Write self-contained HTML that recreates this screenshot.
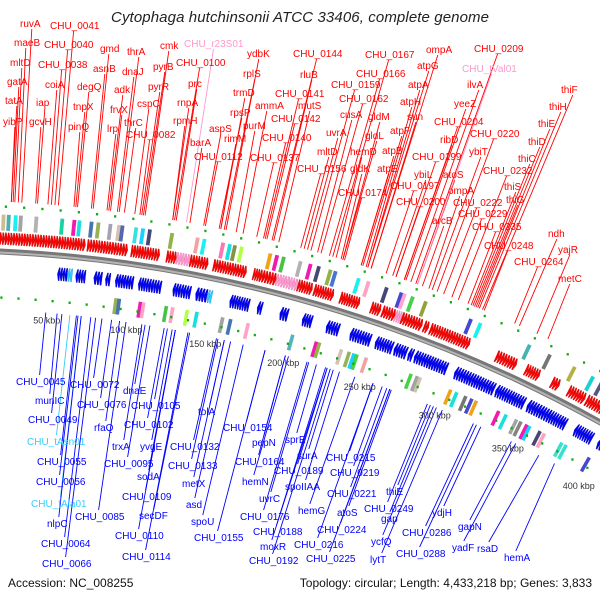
<!DOCTYPE html>
<html><head><meta charset="utf-8">
<style>
html,body{margin:0;padding:0;background:#fff;width:600px;height:600px;overflow:hidden;}
svg{display:block;font-family:"Liberation Sans",sans-serif;overflow:hidden;}
</style></head>
<body>
<svg id="map" width="600" height="600" viewBox="0 0 600 600" xmlns="http://www.w3.org/2000/svg">
<rect width="600" height="600" fill="#fff"/>
<text x="300" y="22" text-anchor="middle" font-size="15" font-style="italic" fill="#222" textLength="378">Cytophaga hutchinsonii ATCC 33406, complete genome</text>
<g id="lines"></g>
<g id="features"></g>
<g id="labels"></g>
<text x="8" y="587" font-size="12" fill="#111">Accession: NC_008255</text>
<text x="592" y="587" font-size="12" fill="#111" text-anchor="end">Topology: circular; Length: 4,433,218 bp; Genes: 3,833</text>
</svg>
<script>
// ---- data (kbp) ----
const fwdStart = [12,70,96,99,117,131,145,169,173,196,206,222,241,248,260,274,278,320,339,356,367,379];
const fwdEnd   = [69,94,99,113,123,142,165,173,183,205,218,234,247,256,273,277,303,333,348,361,378,392];
const rnaFwdStart = [123,183,256];
const rnaFwdEnd   = [131,196,260];
const revStart = [54,65,76,83,89,103,109,124,138,159,176,190,204,219,234,250,262,271,275,301,328,349,364,381,397];
const revEnd   = [60,71,81,86,100,109,117,135,145,171,179,195,210,227,247,261,270,274,296,327,347,364,375,393,402];
const rnaRevStart = [60,145];
const rnaRevEnd   = [63,148];
const fwdBoxKbp = [20,23,27,30,39,54,61,64,71,75,82,87,89,97,101,105,118,133,137,148,152,155,159,176,180,184,194,200,205,212,215,229,235,246,255,257,262,270,298,304,335,348,364,376,382];
const fwdBoxColor = ["#c8b48a","#3aa","#0ee","#999","#aaa","#0c9","#e0a","#0dd","#36a","#8a4","#99a","#cba","#45a","#2dd","#0cf","#336","#8a3","#e99","#0ee","#f6a","#0dd","#783","#af3","#e90","#e0a","#3b3","#aaa","#e0a","#336","#8a3","#36c","#0ee","#f9b","#336","#33c","#f9c","#3c3","#892","#33c","#0ee","#3aa","#666","#aa3","#0cc","#447"];
const revBoxKbp = [91,93,106,108,122,126,135,141,157,162,173,201,216,218,232,237,240,242,248,277,281,283,303,307,313,317,320,335,340,347,350,354,356,363,366,378,381,397];
const revBoxColor = ["#8a4","#36a","#e0a","#f9b","#3b3","#f9b","#af3","#0dd","#999","#36a","#f9b","#4ab","#e0a","#8a3","#cba","#8a4","#0cf","#3c3","#e99","#3c3","#999","#cba","#e90","#0dd","#666","#33c","#e90","#e0a","#0dd","#999","#777","#e0a","#0cf","#336","#f9b","#2dc","#2dc","#33c"];
const tickKbp = [50,100,150,200,250,300,350,400];
const tickLabels = ["50 kbp","100 kbp","150 kbp","200 kbp","250 kbp","300 kbp","350 kbp","400 kbp"];

const redGenes = ["ruvA","CHU_0041","maeB","CHU_0040","mltD","CHU_0038","gatA","coiA","tatA","iap","yibP","gcvH","pinQ","degQ","tnpX","gmd","asnB","thrA","dnaJ","adk","frvX","lrp","thrC","CHU_0082","cspC","pyrR","pyrB","cmk","CHU_r23S01","CHU_0100","prc","rnpA","rpmH","barA","CHU_0112","aspS","ydbK","rplS","trmD","rpsP","ammA","purM","rimM","CHU_0137","CHU_0140","CHU_0142","CHU_0141","CHU_0144","rluB","mutS","CHU_0156","mltD","uvrA","cusA","CHU_0162","CHU_0159","CHU_0166","CHU_0167","gldM","gldL","hemD","gldK","CHU_0174","atpF","atpB","atpE","sun","atpH","atpA","atpG","ompA","CHU_0197","CHU_0200","CHU_0199","ybiL","atoS","ribD","CHU_0204","yeeZ","ilvA","CHU_tVal01","CHU_0209","ompA","CHU_0222","CHU_0229","CHU_0220","ybiT","CHU_0232","thiS","thiG","thiC","thiD","thiE","thiH","thiF","arcB","CHU_0235","CHU_0248","ndh","CHU_0264","yajR","metC"];
const redKbp = [30,51,28,49,26,47,25,45,24,39,24,38,60,62,61,71,70,86,85,80,81,79,89,98,95,99,100,101,125,118,119,117,117,127,136,135,148,147,145,144,158,154,145,166,170,172,171,175,176,179,192,194,196,202,204,198,209,211,217,217,213,216,218,229,228,228,234,231,232,232,234,243,249,249,247,262,254,254,255,258,262,261,269,278,283,274,271,287,295,298,296,297,299,300,302,265,293,303,325,322,336,343];
const redPos = [[20,27],[50,29],[14,46],[44,48],[10,66],[38,68],[7,85],[45,88],[5,104],[36,106],[3,125],[29,125],[68,130],[77,90],[73,110],[100,52],[93,72],[127,55],[122,75],[114,93],[110,113],[107,132],[124,126],[126,138],[137,107],[148,90],[153,70],[160,49],[184,47],[176,66],[188,87],[177,106],[173,124],[190,146],[194,160],[209,132],[247,57],[243,77],[233,96],[230,116],[255,109],[243,129],[224,142],[250,161],[262,141],[271,122],[275,97],[293,57],[300,78],[298,109],[297,172],[317,155],[326,136],[340,118],[339,102],[331,88],[356,77],[365,58],[368,120],[365,139],[350,155],[350,172],[338,196],[390,134],[382,154],[377,172],[407,120],[400,105],[408,88],[417,69],[426,53],[390,189],[396,205],[412,160],[414,178],[443,178],[440,143],[434,125],[454,107],[467,88],[462,72],[474,52],[448,194],[453,206],[458,217],[470,137],[469,155],[483,174],[504,190],[506,203],[518,162],[528,145],[538,127],[549,110],[561,93],[432,224],[472,230],[484,249],[548,237],[514,265],[558,253],[558,282]];

const blueGenes = ["CHU_0045","munIC","CHU_0049","CHU_tAsn01","CHU_0055","CHU_0056","CHU_tAla01","nlpC","CHU_0064","CHU_0066","CHU_0072","CHU_0076","rfaQ","dnaE","CHU_0105","CHU_0102","trxA","yvgE","CHU_0095","sodA","CHU_0109","CHU_0085","secDF","CHU_0110","CHU_0114","tolA","CHU_0154","CHU_0132","CHU_0133","metX","asd","spoU","CHU_0155","pepN","CHU_0164","hemN","uvrC","CHU_0176","CHU_0188","moxR","CHU_0192","sprE","surA","CHU_0189","spoIIAA","hemG","CHU_0215","CHU_0219","CHU_0221","atoS","CHU_0224","CHU_0216","CHU_0225","CHU_0249","thiE","gap","ycfQ","lytT","ydjH","CHU_0286","CHU_0288","gapN","yadF","rsaD","hemA"];
const blueKbp = [49,56,59,64,68,69,71,71,77,80,84,90,95,111,125,123,109,128,114,130,130,99,139,130,138,161,187,156,157,161,165,173,187,200,200,202,215,214,226,227,229,220,231,227,235,245,257,263,266,269,268,257,268,293,295,297,299,303,329,324,326,350,353,369,380];
const bluePos = [[16,385],[35,404],[28,423],[27,445],[37,465],[36,485],[31,507],[47,527],[41,547],[42,567],[70,388],[77,408],[94,431],[123,394],[131,409],[124,428],[112,450],[140,450],[104,467],[137,480],[122,500],[75,520],[139,519],[115,539],[122,560],[198,415],[223,431],[170,450],[168,469],[182,487],[186,508],[191,525],[194,541],[252,446],[235,465],[242,485],[259,502],[240,520],[253,535],[260,550],[249,564],[285,443],[297,459],[274,474],[285,490],[298,514],[326,461],[330,476],[327,497],[337,516],[317,533],[294,548],[306,562],[364,512],[386,495],[381,522],[371,545],[370,563],[432,516],[402,536],[396,557],[458,530],[452,551],[477,552],[504,561]];

// ---- geometry ----
const NS = "http://www.w3.org/2000/svg";
const CX = -64, CY = 1616, R = 1366;
function ang(k){ return 0.0236 + 0.001234 * k; }
function pt(k, r){ const t = ang(k); return [CX + r * Math.sin(t), CY - r * Math.cos(t)]; }
function P(a){ return a[0].toFixed(1) + "," + a[1].toFixed(1); }
function mk(tag, attrs, parent){ const e = document.createElementNS(NS, tag); for (const k in attrs) e.setAttribute(k, attrs[k]); parent.appendChild(e); return e; }
function arcPath(k0, k1, r){
  const a = pt(k0, r), b = pt(k1, r);
  return "M" + P(a) + " A" + r + "," + r + " 0 0 1 " + P(b);
}

const gLines = document.getElementById("lines");
const gFeat = document.getElementById("features");
const gLab = document.getElementById("labels");

// backbone (only visible arc)
const bb1 = mk("path", {d: arcPath(-22, 415, R), fill:"none", stroke:"#777", "stroke-width":6}, gFeat);


const bb2 = mk("path", {d: arcPath(-22, 415, R-1), fill:"none", stroke:"#b5b5b5", "stroke-width":2}, gFeat);



function arrow(s, e, r1, r2, fwd, fill, stroke, name){
  const head = Math.min(0.9, (e - s) * 0.6);
  const rm = (r1 + r2) / 2;
  let pts;
  if (fwd) pts = [pt(s,r1), pt(e-head,r1), pt(e,rm), pt(e-head,r2), pt(s,r2)];
  else pts = [pt(e,r1), pt(s+head,r1), pt(s,rm), pt(s+head,r2), pt(e,r2)];
  const p = mk("polygon", {points: pts.map(P).join(" "), fill: fill, stroke: stroke, "stroke-width": 0.4}, gFeat);
  
  
}
function cluster(s, e, fwd, r1, r2, fill, stroke, name){
  const n = Math.max(1, Math.round((e - s) / 1.6));
  const w = (e - s) / n;
  for (let i = 0; i < n; i++) arrow(s + i*w, s + (i+1)*w - 0.1, r1, r2, fwd, fill, stroke, name);
}
for (let i = 0; i < fwdStart.length; i++) cluster(fwdStart[i], fwdEnd[i], true, R+7, R+19, "#ff0000", "#c00000", "forward-cds");
for (let i = 0; i < rnaFwdStart.length; i++) cluster(rnaFwdStart[i], rnaFwdEnd[i], true, R+7, R+19, "#ff9ccf", "#e070b0", "forward-rna");
for (let i = 0; i < revStart.length; i++) cluster(revStart[i], revEnd[i], false, R-25, R-12, "#0000ff", "#0000aa", "reverse-cds");
for (let i = 0; i < rnaRevStart.length; i++) cluster(rnaRevStart[i], rnaRevEnd[i], false, R-25, R-12, "#33ccff", "#1199dd", "reverse-rna");

function box(k, r1, r2, col, name){
  const pts = [pt(k-1.1,r1), pt(k+1.1,r1), pt(k+1.1,r2), pt(k-1.1,r2)];
  const b = mk("polygon", {points: pts.map(P).join(" "), fill: col, opacity: 0.9}, gFeat);
  
  
}
for (let i = 0; i < fwdBoxKbp.length; i++) box(fwdBoxKbp[i], R+21, R+37, fwdBoxColor[i], "forward-category-box");
for (let i = 0; i < revBoxKbp.length; i++) box(revBoxKbp[i], R-52, R-36, revBoxColor[i], "reverse-category-box");

// green marker dots
for (let k = 0; k <= 410; k += 10.5) {
  const a = pt(k, R+45), b = pt(k, R-46);
  const d1 = mk("rect", {x:a[0]-1, y:a[1]-1.2, width:2.2, height:2.4, fill:"#11aa11"}, gFeat);
  
  
  const d2 = mk("rect", {x:b[0]-1, y:b[1]-1.2, width:2.2, height:2.4, fill:"#11aa11"}, gFeat);
  
  
}

// tick labels
for (let i = 0; i < tickKbp.length; i++) {
  const p = pt(tickKbp[i], R-66);
  const t = mk("text", {x:p[0].toFixed(1), y:(p[1]+3).toFixed(1), "text-anchor":"middle", "font-size":9, fill:"#333"}, gLab);
  t.textContent = tickLabels[i];
  
  
}

// gene labels + leader lines
function label(name, pos, k, upper){
  let col = upper ? "#ff0000" : "#0000ff";
  if (name === "CHU_r23S01" || name === "CHU_tVal01") col = "#ff99cc";
  if (name === "CHU_tAsn01" || name === "CHU_tAla01") col = "#33ccff";
  const w = name.length * 5.9;
  const ax = pos[0] + w/2;
  const ay = upper ? pos[1] + 2 : pos[1] - 10;
  const end = upper ? pt(k, R+50) : pt(k, R-58);
  const l = mk("line", {x1:ax.toFixed(1), y1:ay, x2:end[0].toFixed(1), y2:end[1].toFixed(1), stroke:col, "stroke-width":0.9}, gLines);
  
  
  const t = mk("text", {x:pos[0], y:pos[1], "font-size":10, fill:col}, gLab);
  t.textContent = name;
  
  
}
for (let i = 0; i < redGenes.length; i++) label(redGenes[i], redPos[i], redKbp[i], true);
for (let i = 0; i < blueGenes.length; i++) label(blueGenes[i], bluePos[i], blueKbp[i], false);
</script>
</body></html>
